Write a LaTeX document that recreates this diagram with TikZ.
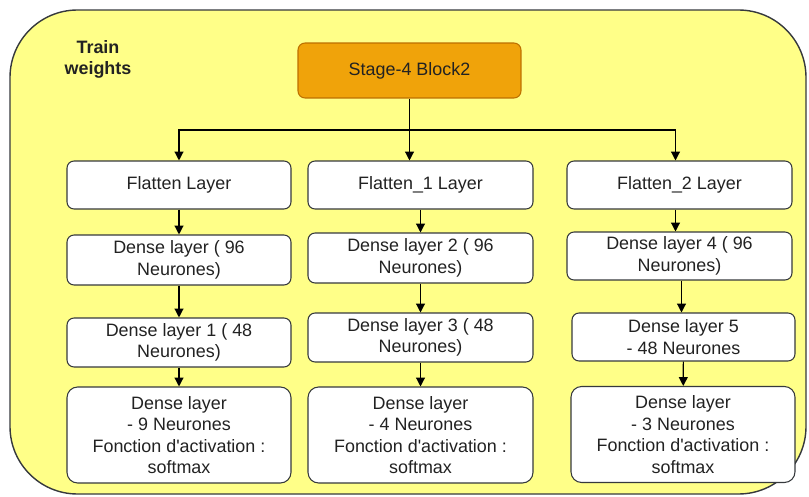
\documentclass[tikz,border=0pt]{standalone}
\usepackage{fontspec}
\setmainfont{Liberation Sans}[Ligatures=TeXOff]
\usepackage{xcolor}
\usetikzlibrary{arrows.meta, positioning, calc}

\definecolor{bgyellow}{HTML}{FFFF88}
\definecolor{edgegray}{HTML}{36393D}
\definecolor{stagefill}{HTML}{F0A30A}
\definecolor{stageedge}{HTML}{BD7000}
\definecolor{txtgray}{HTML}{222222}

\begin{document}
\begin{tikzpicture}[
  x=0.02cm, y=-0.02cm,
  box/.style={draw=edgegray, rounded corners=4pt, fill=white, line width=0.6pt, minimum width=4.48cm, minimum height=0.96cm, inner sep=1pt, font=\fontsize{10.2}{12.2}\selectfont, align=center, text=txtgray},
  dense/.style={box, minimum height=1cm},
  outbox/.style={box, minimum height=1.92cm, rounded corners=6pt},
  stage/.style={box, fill=stagefill, draw=stageedge, minimum height=1.1cm},
  arr/.style={-{Triangle[length=5pt, width=5pt]}, line width=0.7pt, draw=black},
]
\useasboundingbox (0,0) rectangle (809,497);
% frame
\draw[edgegray, fill=bgyellow, line width=0.8pt, rounded corners=1.35cm] (10,10) rectangle (806,494);
\node[font=\bfseries\fontsize{10.2}{12}\selectfont, align=center, text=txtgray] (train) at (98,59) {Train\\weights};

\node[stage, minimum width=4.46cm] (stage) at (409.5,70.5) {Stage-4 Block2};

% column 1
\node[box] (flat) at (179,185) {Flatten Layer};
\node[dense] (dense) at (179,260) {Dense layer ( 96\\Neurones)};
\node[dense, minimum height=0.98cm] (denseA) at (179,342.5) {Dense layer 1 ( 48\\Neurones)};
\node[outbox] (out) at (179,435) {Dense layer\\- 9 Neurones\\Fonction d'activation :\\softmax};

% column 2
\node[box, minimum width=4.5cm] (flatA) at (420.5,185) {Flatten\_1 Layer};
\node[dense, minimum width=4.5cm] (denseB) at (420.5,258) {Dense layer 2 ( 96\\Neurones)};
\node[dense, minimum width=4.5cm, minimum height=0.98cm] (denseC) at (420.5,337.5) {Dense layer 3 ( 48\\Neurones)};
\node[outbox, minimum width=4.5cm] (outA) at (420.5,435) {Dense layer\\- 4 Neurones\\Fonction d'activation :\\softmax};

% column 3
\node[box, minimum width=4.5cm] (flatB) at (679.5,185) {Flatten\_2 Layer};
\node[dense, minimum width=4.5cm, minimum height=0.96cm] (denseD) at (679.5,256) {Dense layer 4 ( 96\\Neurones)};
\node[dense, minimum width=4.46cm, minimum height=0.96cm] (denseE) at (683.5,337) {Dense layer 5\\- 48 Neurones};
\node[outbox, minimum width=4.48cm] (outB) at (683,434.5) {Dense layer\\- 3 Neurones\\Fonction d'activation :\\softmax};

% split
\coordinate (split) at (stage.south |- 0,130);
\draw[line width=0.7pt] (stage.south) -- (split);
\draw[arr] (split) -| (flat.north);
\draw[arr] (split) -- (split |- flatA.north);
\draw[arr] (split) -| ($(flatB.north)+(-4,0)$);

\draw[arr] (flat) -- (dense);
\draw[arr] (dense) -- (denseA);
\draw[arr] (denseA) -- (out);
\draw[arr] (flatA) -- (denseB);
\draw[arr] (denseB) -- (denseC);
\draw[arr] (denseC) -- (outA);
\draw[arr] ($(flatB.south)+(-4,0)$) -- ($(denseD.north)+(-4,0)$);
\draw[arr] ($(denseD.south)+(2,0)$) -- ($(denseD.south |- denseE.north)+(2,0)$);
\draw[arr] (denseE) -- (outB);
\end{tikzpicture}
\end{document}
